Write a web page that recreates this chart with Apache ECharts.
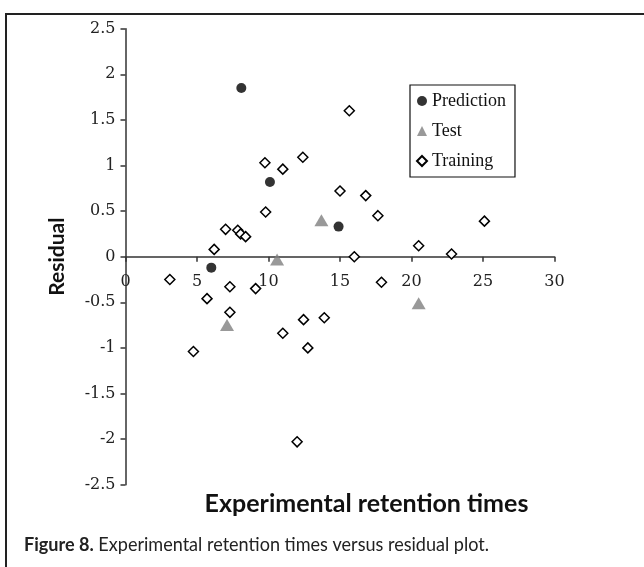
<!DOCTYPE html>
<html>
<head>
    <meta charset="utf-8">
    <title>Residual plot</title>
    <script src="https://cdn.jsdelivr.net/npm/echarts@6/dist/echarts.min.js"></script>
    <style>
        html, body { margin: 0; padding: 0; background: #fff; }
    </style>
</head>
<body>
<div id="chart1" style="width:644px;height:567px;"></div>
<script type="text/javascript">
    // 读图估计的数据
    var xTicks = [0, 5, 10, 15, 20, 25, 30];
    var yTicks = [-2.5, -2, -1.5, -1, -0.5, 0, 0.5, 1, 1.5, 2, 2.5];

    var predX = [8.1, 10.1, 14.9, 6.0];
    var predY = [1.85, 0.82, 0.33, -0.12];

    var testX = [13.7, 10.6, 7.1, 20.5];
    var testY = [0.40, -0.03, -0.75, -0.51];

    var trainX = [15.65, 9.75, 11.0, 12.4, 15.0, 9.8, 7.0, 7.85, 8.05, 8.4, 6.2, 16.0, 16.8, 17.65, 25.1,
        20.5, 22.8, 17.9, 3.1, 7.3, 9.1, 5.7, 7.3, 12.45, 13.9, 11.0, 12.75, 4.75, 12.0];
    var trainY = [1.60, 1.03, 0.96, 1.09, 0.72, 0.49, 0.30, 0.29, 0.25, 0.22, 0.08, 0.0, 0.67, 0.45, 0.39,
        0.12, 0.03, -0.28, -0.25, -0.33, -0.35, -0.46, -0.61, -0.69, -0.67, -0.84, -1.0, -1.04, -2.03];

    function pairs(xs, ys) {
        return xs.map(function (x, i) { return [x, ys[i]]; });
    }

    var myChart1 = echarts.init(document.getElementById('chart1'));

    var tickFont = {
        fontFamily: 'DejaVu Serif',
        fontSize: 16,
        color: '#222'
    };

    // x 轴画在 y=0 处（网格高 456，一半 228）
    var xAxisOffset = -228;

    myChart1.setOption({
        backgroundColor: '#fff',
        animation: false,
        grid: {
            left: 125.5,
            top: 28.7,
            width: 429,
            height: 456
        },
        legend: {
            left: 410,
            top: 85,
            orient: 'vertical',
            selectedMode: false,
            backgroundColor: '#fff',
            borderColor: '#111',
            borderWidth: 1.2,
            padding: [7, 9, 7, 6],
            itemGap: 12,
            itemWidth: 10,
            itemHeight: 10,
            textStyle: {
                fontFamily: 'Liberation Serif',
                fontSize: 18,
                color: '#111'
            },
            data: ['Prediction', 'Test', 'Training']
        },
        xAxis: {
            type: 'value',
            min: 0,
            max: 30,
            interval: 5,
            position: 'bottom',
            offset: xAxisOffset,
            splitLine: { show: false },
            axisLine: { onZero: false, lineStyle: { color: '#333', width: 1.5 } },
            axisTick: { show: true, inside: false, length: 5, lineStyle: { color: '#333', width: 1.5 } },
            axisLabel: Object.assign({ margin: 17, showMinLabel: true, showMaxLabel: true }, tickFont)
        },
        yAxis: {
            type: 'value',
            min: -2.5,
            max: 2.5,
            interval: 0.5,
            name: 'Residual',
            nameLocation: 'middle',
            nameRotate: 90,
            nameGap: 58,
            nameTextStyle: {
                fontFamily: 'Lato',
                fontWeight: 'bold',
                fontSize: 21,
                color: '#111'
            },
            splitLine: { show: false },
            axisLine: { show: true, onZero: false, lineStyle: { color: '#333', width: 1.5 } },
            axisTick: { show: true, inside: false, length: 5, lineStyle: { color: '#333', width: 1.5 } },
            axisLabel: Object.assign({ margin: 10 }, tickFont)
        },
        series: [
            {
                name: 'Prediction',
                type: 'scatter',
                symbol: 'circle',
                symbolSize: 10,
                z: 4,
                itemStyle: { color: '#000' },
                data: pairs(predX, predY)
            },
            {
                name: 'Test',
                type: 'scatter',
                symbol: 'triangle',
                symbolSize: [14, 12],
                z: 3,
                itemStyle: { color: '#7f7f7f' },
                data: pairs(testX, testY)
            },
            {
                name: 'Training',
                type: 'scatter',
                symbol: 'diamond',
                symbolSize: 10,
                z: 2,
                itemStyle: { color: '#fff', borderColor: '#000', borderWidth: 1.5, opacity: 1 },
                data: pairs(trainX, trainY)
            }
        ],
        graphic: [
            {
                type: 'polyline',
                shape: { points: [[6, 567], [6, 14], [644, 14]] },
                style: { stroke: '#222', lineWidth: 2, fill: null }
            },
            {
                type: 'text',
                x: 366.5,
                y: 504,
                style: {
                    text: 'Experimental retention times',
                    fontFamily: 'Lato',
                    fontWeight: 'bold',
                    fontSize: 25,
                    fill: '#111',
                    align: 'center',
                    verticalAlign: 'middle'
                }
            },
            {
                type: 'text',
                x: 24,
                y: 545,
                scaleX: 0.95,
                style: {
                    text: '{b|Figure 8.} Experimental retention times versus residual plot.',
                    fontFamily: 'Lato',
                    fontSize: 19,
                    fill: '#222',
                    align: 'left',
                    verticalAlign: 'middle',
                    rich: {
                        b: { fontFamily: 'Lato', fontWeight: 'bold', fontSize: 19, fill: '#222' }
                    }
                }
            }
        ]
    });
</script>
</body>
</html>
